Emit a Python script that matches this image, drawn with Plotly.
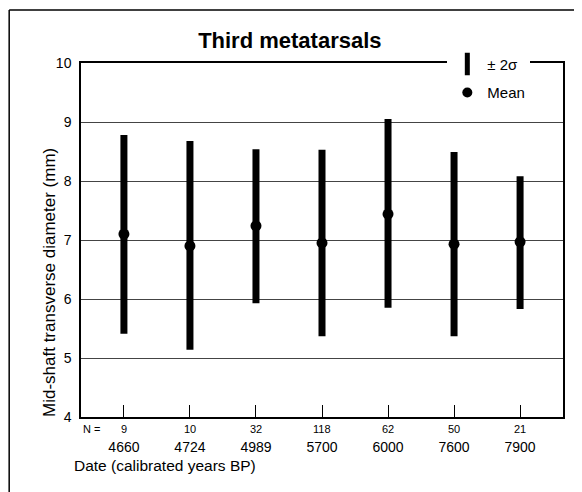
import plotly.graph_objects as go

dates = ["4660", "4724", "4989", "5700", "6000", "7600", "7900"]
n_values = ["9", "10", "32", "118", "62", "50", "21"]
mean_vals = [7.10, 6.90, 7.24, 6.95, 7.44, 6.93, 6.97]
low_vals = [5.41, 5.14, 5.93, 5.37, 5.85, 5.37, 5.83]
high_vals = [8.78, 8.68, 8.54, 8.53, 9.05, 8.49, 8.08]

FONT = "Liberation Sans, Arial, sans-serif"
pos = list(range(len(dates)))

bx, by = [], []
for i, lo, hi in zip(pos, low_vals, high_vals):
    bx += [i, i, None]
    by += [lo, hi, None]

fig = go.Figure()
fig.add_trace(go.Scatter(x=bx, y=by, mode="lines", line=dict(color="black", width=7),
                         showlegend=False, hoverinfo="skip"))
fig.add_trace(go.Scatter(x=pos, y=mean_vals, mode="markers",
                         marker=dict(color="black", size=11), showlegend=False))
# legend entries
fig.add_trace(go.Scatter(x=[None], y=[None], mode="markers", name="\u00b1 2\u03c3",
                         marker=dict(symbol="line-ns", size=18, line=dict(color="black", width=6)),
                         legendgroup="a"))
fig.add_trace(go.Scatter(x=[None], y=[None], mode="markers", name="Mean",
                         marker=dict(symbol="circle", size=10, color="black"),
                         legendgroup="b"))

for i, n in zip(pos, n_values):
    fig.add_annotation(x=i, xref="x", y=-0.034, yref="paper", text=n, showarrow=False,
                       font=dict(size=11, family=FONT, color="black"), yanchor="middle")
fig.add_annotation(x=0, xref="paper", y=-0.034, yref="paper", text="N =", showarrow=False,
                   xanchor="left", yanchor="middle", font=dict(size=11, family=FONT, color="black"))
fig.add_annotation(x=-0.019, xref="paper", y=-0.138, yref="paper", text="Date (calibrated years BP)",
                   showarrow=False, xanchor="left", yanchor="middle",
                   font=dict(size=15.5, family=FONT, color="black"))
fig.add_annotation(x=-0.064, xref="paper", y=0.379, yref="paper",
                   text="Mid-shaft transverse diameter (mm)", textangle=-90,
                   showarrow=False, xanchor="center", yanchor="middle",
                   font=dict(size=17, family=FONT, color="black"))

# outer frame (top and left edges of the scanned panel)
fig.add_shape(type="line", xref="paper", yref="paper", x0=-0.149, x1=1.025, y0=1.15, y1=1.15,
              line=dict(color="black", width=1.5), layer="below")
fig.add_shape(type="line", xref="paper", yref="paper", x0=-0.149, x1=-0.149, y0=1.15, y1=-0.3,
              line=dict(color="black", width=1.5), layer="below")

fig.update_layout(
    width=574, height=484,
    margin=dict(l=73, r=19, t=55, b=75),
    paper_bgcolor="white", plot_bgcolor="white",
    font=dict(family=FONT, color="black"),
    title=dict(text="<b>Third metatarsals</b>", x=0.491, xanchor="center",
               y=0.934, yanchor="middle", font=dict(size=22, family=FONT, color="black")),
    xaxis=dict(range=[-0.65, 6.65], tickvals=pos, ticktext=dates, ticks="inside", ticklen=12,
               tickcolor="black", tickwidth=1, showgrid=False, zeroline=False,
               showline=True, linecolor="black", linewidth=1.5, mirror=True,
               tickfont=dict(size=14, family=FONT, color="black"), ticklabelstandoff=16),
    yaxis=dict(range=[4, 10], dtick=1, showgrid=True, gridcolor="#444", gridwidth=1,
               zeroline=False, showline=True, linecolor="black", linewidth=1.5, mirror=True,
               ticks="", tickfont=dict(size=14, family=FONT, color="black"), ticklabelstandoff=5),
    legend=dict(x=0.76, y=1.043, xanchor="left", yanchor="top", bgcolor="white",
                font=dict(size=15, family=FONT, color="black"), tracegroupgap=6,
                traceorder="grouped", itemsizing="trace"),
    showlegend=True,
)

fig.write_html("out.html")
